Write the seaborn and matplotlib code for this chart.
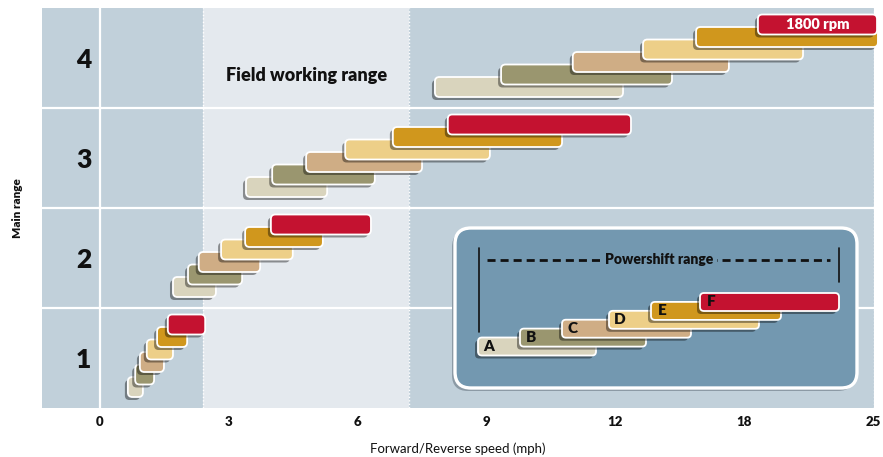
import numpy as np
import pandas as pd
import seaborn as sns
import matplotlib
matplotlib.use("Agg")
import matplotlib.pyplot as plt
from matplotlib.patches import FancyBboxPatch
from matplotlib.transforms import IdentityTransform

# ---------------- data ----------------
GEARS = ["A", "B", "C", "D", "E", "F"]
MAIN_RANGES = [1, 2, 3, 4]
SPEED_TICKS = [0, 3, 6, 9, 12, 18, 25]
FIELD_RANGE = [2.4, 7.2]

range1_start = [0.65, 0.82, 0.93, 1.09, 1.33, 1.58]
range1_end = [1.00, 1.26, 1.49, 1.70, 2.03, 2.45]
range2_start = [1.70, 2.05, 2.30, 2.82, 3.38, 3.98]
range2_end = [2.70, 3.31, 3.73, 4.49, 5.19, 6.31]
range3_start = [3.40, 4.01, 4.80, 5.71, 6.82, 8.10]
range3_end = [5.29, 6.40, 7.50, 9.08, 10.76, 12.73]
range4_start = [7.80, 9.34, 11.01, 13.29, 15.76, 18.75]
range4_end = [12.36, 14.64, 17.29, 21.20, 25.27, 25.22]

# legend (inset) bars, in inset units
legend_start = [23, 65, 107, 154, 196, 245]
legend_end = [141, 191, 236, 304, 326, 384]

GEAR_COLORS = ["#d9d4bd", "#9a966f", "#cfad85", "#edcf88", "#d0971d", "#c41230"]
BLUE = "#c1d0da"
LIGHT = "#e4e9ee"
INSET_BG = "#7398b0"

starts = [range1_start, range2_start, range3_start, range4_start]
ends = [range1_end, range2_end, range3_end, range4_end]
rows = []
for r, s_list, e_list in zip(MAIN_RANGES, starts, ends):
    for g, s, e in zip(GEARS, s_list, e_list):
        rows.append(dict(main_range=r, gear=g, start=s, end=e))
df = pd.DataFrame(rows)

# ---------------- scale ----------------
TICK_ARR = np.array(SPEED_TICKS, float)
IDX_ARR = np.arange(len(SPEED_TICKS), dtype=float)
LO_SLOPE = TICK_ARR[1] - TICK_ARR[0]
HI_SLOPE = TICK_ARR[-1] - TICK_ARR[-2]


def fwd(x):
    x = np.asarray(x, float)
    y = np.interp(x, TICK_ARR, IDX_ARR)
    y = np.where(x < TICK_ARR[0], (x - TICK_ARR[0]) / LO_SLOPE, y)
    y = np.where(x > TICK_ARR[-1], IDX_ARR[-1] + (x - TICK_ARR[-1]) / HI_SLOPE, y)
    return y


def inv(y):
    y = np.asarray(y, float)
    x = np.interp(y, IDX_ARR, TICK_ARR)
    x = np.where(y < 0, TICK_ARR[0] + y * LO_SLOPE, x)
    x = np.where(y > IDX_ARR[-1], TICK_ARR[-1] + (y - IDX_ARR[-1]) * HI_SLOPE, x)
    return x


sns.set_theme(style="white")
plt.rcParams["font.family"] = ["Lato", "DejaVu Sans"]
HEAVY = "heavy"

W, H = 883, 457
fig = plt.figure(figsize=(W / 100, H / 100), dpi=100)
fig.patch.set_facecolor("white")
ax = fig.add_axes([42 / W, 49 / H, 832 / W, 400 / H])
ax.set_xscale("function", functions=(fwd, inv))
ax.set_xlim(float(inv(-0.45)), float(inv(6.008)))
ax.set_ylim(0, 4)
ax.set_facecolor(BLUE)
for sp in ax.spines.values():
    sp.set_visible(False)

ax.axvspan(FIELD_RANGE[0], FIELD_RANGE[1], color=LIGHT, lw=0, zorder=0)
for xv in FIELD_RANGE + [ax.get_xlim()[1]]:
    ax.axvline(xv, color="white", ls=(0, (1, 1.5)), lw=1.0, zorder=1)
ax.axvline(0, color="white", lw=1.6, zorder=1)
for yv in MAIN_RANGES[:-1]:
    ax.axhline(yv, color="white", lw=1.6, zorder=1)


def rounded_barh(a, y, left, right, height, colors, z0, radius=4.5, lw=1.3):
    left = np.asarray(left, float)
    right = np.asarray(right, float)
    bars = a.barh(y, right - left, left=left, height=height)
    exts = [b.get_window_extent() for b in bars]
    bars.remove()
    for i, (bb, c) in enumerate(zip(exts, colors)):
        sh = FancyBboxPatch((bb.x0 - 3, bb.y0 - 3), bb.width, bb.height,
                            boxstyle=f"round,pad=0,rounding_size={radius}",
                            transform=IdentityTransform(), fc="black", alpha=0.4,
                            lw=0, zorder=z0 + 2 * i, clip_on=False)
        a.add_artist(sh)
        p = FancyBboxPatch((bb.x0, bb.y0), bb.width, bb.height,
                           boxstyle=f"round,pad=0,rounding_size={radius}",
                           transform=IdentityTransform(), fc=c, ec="white",
                           lw=lw, zorder=z0 + 2 * i + 1, clip_on=False)
        a.add_artist(p)
    return exts


BAR_BASE, BAR_STEP, BAR_H = 0.21, 0.125, 0.20
for r in MAIN_RANGES:
    sub = df[df.main_range == r]
    ys = (r - 1) + BAR_BASE + BAR_STEP * np.arange(len(sub))
    rounded_barh(ax, ys, sub.start.values, sub.end.values, BAR_H, GEAR_COLORS, 3)

# 1800 rpm label on top gear of range 4
top = df[(df.main_range == MAIN_RANGES[-1]) & (df.gear == GEARS[-1])].iloc[0]
xc = float(inv((fwd(top.start) + fwd(top.end)) / 2))
ax.text(xc, MAIN_RANGES[-1] - 1 + BAR_BASE + BAR_STEP * 5, "1800 rpm", color="white",
        fontsize=10.5, fontweight=HEAVY, ha="center", va="center", zorder=30)

# field working range label
fx = float(inv((fwd(FIELD_RANGE[0]) + fwd(FIELD_RANGE[1])) / 2))
ax.text(fx, 3.33, "Field working range", fontsize=13, fontweight=HEAVY,
        ha="center", va="center", color="#111111", zorder=5)

ax.set_xticks(SPEED_TICKS)
ax.set_xticklabels([str(t) for t in SPEED_TICKS], fontweight=HEAVY)
ax.tick_params(axis="x", length=0, pad=6, labelsize=9.5, colors="#111111")
ax.set_yticks(np.array(MAIN_RANGES) - 0.5)
ax.set_yticklabels([str(r) for r in MAIN_RANGES], fontweight=HEAVY)
ax.tick_params(axis="y", length=0, pad=-30, labelsize=19, colors="#111111")
for lab in ax.get_yticklabels():
    lab.set_horizontalalignment("center")
ax.minorticks_off()
ax.set_xlabel("Forward/Reverse speed (mph)", fontsize=9.5, labelpad=10, color="#111111")
ax.set_ylabel("Main range", fontsize=8.5, fontweight=HEAVY, labelpad=14, color="#111111")

# ---------------- inset legend ----------------
IW, IH = 402, 160
iax = fig.add_axes([455 / W, (H - 388) / H, IW / W, IH / H])
iax.set_xlim(0, IW)
iax.set_ylim(0, IH)
iax.axis("off")
iax.add_patch(FancyBboxPatch((-3, -3), IW, IH, boxstyle="round,pad=0,rounding_size=16",
                             fc="#8c9aa5", lw=0, clip_on=False, zorder=0))
iax.add_patch(FancyBboxPatch((0, 0), IW, IH, boxstyle="round,pad=0,rounding_size=16",
                             fc=INSET_BG, ec="white", lw=2.4, clip_on=False, zorder=1))
lys = 41.5 + 8.9 * np.arange(len(GEARS))
rounded_barh(iax, lys, legend_start, legend_end, 18, GEAR_COLORS, 3, radius=4)
for g, s, yv in zip(GEARS, legend_start, lys):
    iax.text(s + 11, yv, g, fontsize=11, fontweight=HEAVY, ha="center", va="center",
             color="#111111", zorder=30)
iax.plot([24, 24], [56, 140], color="#111111", lw=1.2, zorder=5)
iax.plot([384, 384], [106, 140], color="#111111", lw=1.2, zorder=5)
iax.plot([32, 375], [128, 128], color="#111111", lw=2.0, ls=(0, (2.9, 1.8)), zorder=5)
iax.text(204, 128, "Powershift range", fontsize=10, fontweight=HEAVY, ha="center",
         va="center", color="#111111", zorder=6,
         bbox=dict(boxstyle="square,pad=0.3", fc=INSET_BG, ec="none"))

fig.savefig("out.png", dpi=100)
